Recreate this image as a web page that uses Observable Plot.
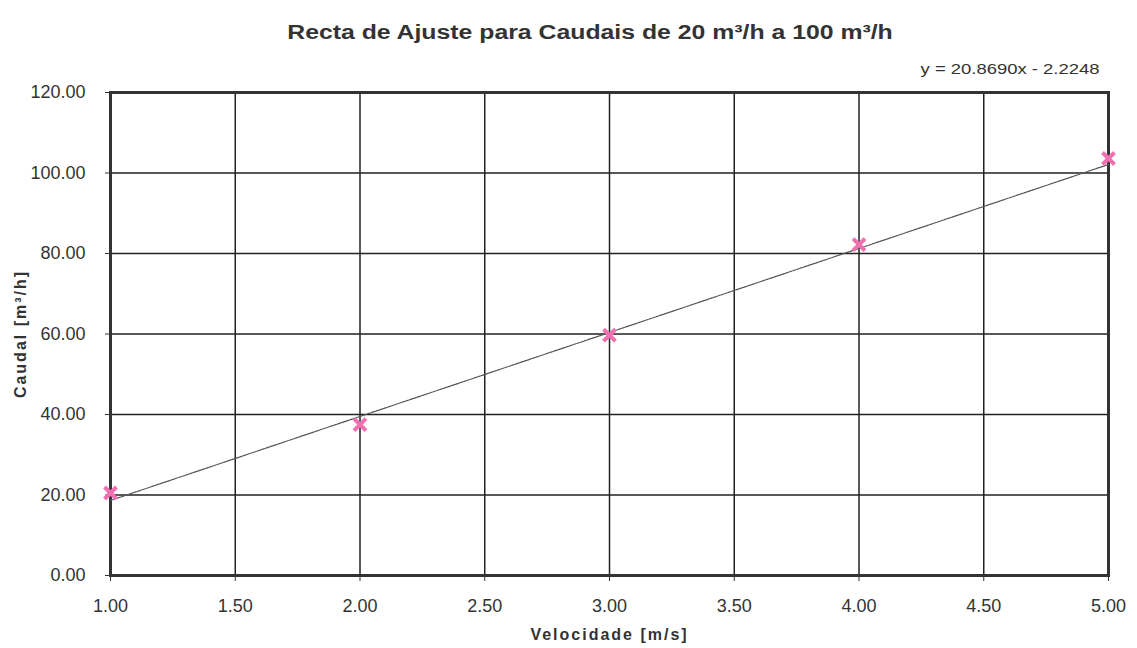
<!DOCTYPE html>
<html>
<head>
<meta charset="utf-8">
<script src="https://cdn.jsdelivr.net/npm/d3@7"></script>
<script src="https://cdn.jsdelivr.net/npm/@observablehq/plot@0.6"></script>
<style>
  body { margin: 0; background: #fff; font-family: "Liberation Sans", Arial, sans-serif; }
  #wrap { width: 1137px; }
  #head { position: relative; height: 80px; }
  #title { position: absolute; left: 0; width: 1180px; top: 21px; text-align: center; font-weight: bold; font-size: 20px; color: #333; transform: scaleX(1.24); transform-origin: 590px 0; }
  #eq { position: absolute; right: 37px; top: 60px; font-size: 15px; color: #333; transform: scaleX(1.23); transform-origin: right top; }
</style>
</head>
<body>
<div id="wrap">
  <div id="head">
    <div id="title">Recta de Ajuste para Caudais de 20 m³/h a 100 m³/h</div>
    <div id="eq">y = 20.8690x - 2.2248</div>
  </div>
  <div id="chart"></div>
</div>
<script>
// Data
const velocidade = [1, 2, 3, 4, 5];
const caudal = [20.5, 37.5, 59.7, 82.2, 103.6];
// Trend line coefficients (from the equation shown)
const slope = [20.8690];
const intercept = [-2.2248];
const xTicks = [1, 1.5, 2, 2.5, 3, 3.5, 4, 4.5, 5];
const yTicks = [0, 20, 40, 60, 80, 100, 120];

const points = velocidade.map((v, i) => ({x: v, y: caudal[i]}));
const xEnds = [velocidade[0], velocidade[velocidade.length - 1]];
const trend = xEnds.map(x => ({x, y: slope[0] * x + intercept[0]}));

const fmt = d3.format(".2f");
const chart = Plot.plot({
  width: 1137,
  height: 568,
  marginTop: 12,
  marginBottom: 73,
  marginLeft: 110,
  marginRight: 29,
  style: {fontFamily: "'Liberation Sans', Arial, sans-serif", fontSize: "18px", color: "#333", background: "#fff"},
  x: {domain: [1, 5]},
  y: {domain: [0, 120]},
  marks: [
    Plot.gridX(xTicks, {stroke: "#222", strokeOpacity: 1, strokeWidth: 1.5}),
    Plot.gridY(yTicks, {stroke: "#222", strokeOpacity: 1, strokeWidth: 1.5}),
    Plot.frame({stroke: "#333", strokeWidth: 3}),
    Plot.axisX(xTicks, {tickFormat: fmt, tickSize: 6, tickPadding: 18, fontSize: 18,
      label: "Velocidade [m/s]", labelAnchor: "center", labelArrow: "none", labelOffset: 64}),
    Plot.axisY(yTicks, {tickFormat: fmt, tickSize: 5, tickPadding: 20, fontSize: 18,
      label: "Caudal [m³/h]", labelAnchor: "center", labelArrow: "none", labelOffset: 96}),
    Plot.line(trend, {x: "x", y: "y", stroke: "#555", strokeWidth: 1.2, strokeDasharray: "3,1"}),
    Plot.dot(points, {x: "x", y: "y", symbol: "times", r: 5.5, stroke: "#f070b0", strokeWidth: 4})
  ]
});
// tick label size
chart.querySelectorAll("g[aria-label='x-axis tick label'], g[aria-label='y-axis tick label']").forEach(g => {
  g.setAttribute("font-size", "18");
  g.style.fontSize = "18px";
});
// bold, spaced axis labels
chart.querySelectorAll("g[aria-label='x-axis label'] text, g[aria-label='y-axis label'] text").forEach(t => {
  t.style.fontWeight = "bold"; t.style.fontSize = "16px"; t.style.letterSpacing = "2px";
});
document.getElementById("chart").appendChild(chart);
</script>
</body>
</html>
